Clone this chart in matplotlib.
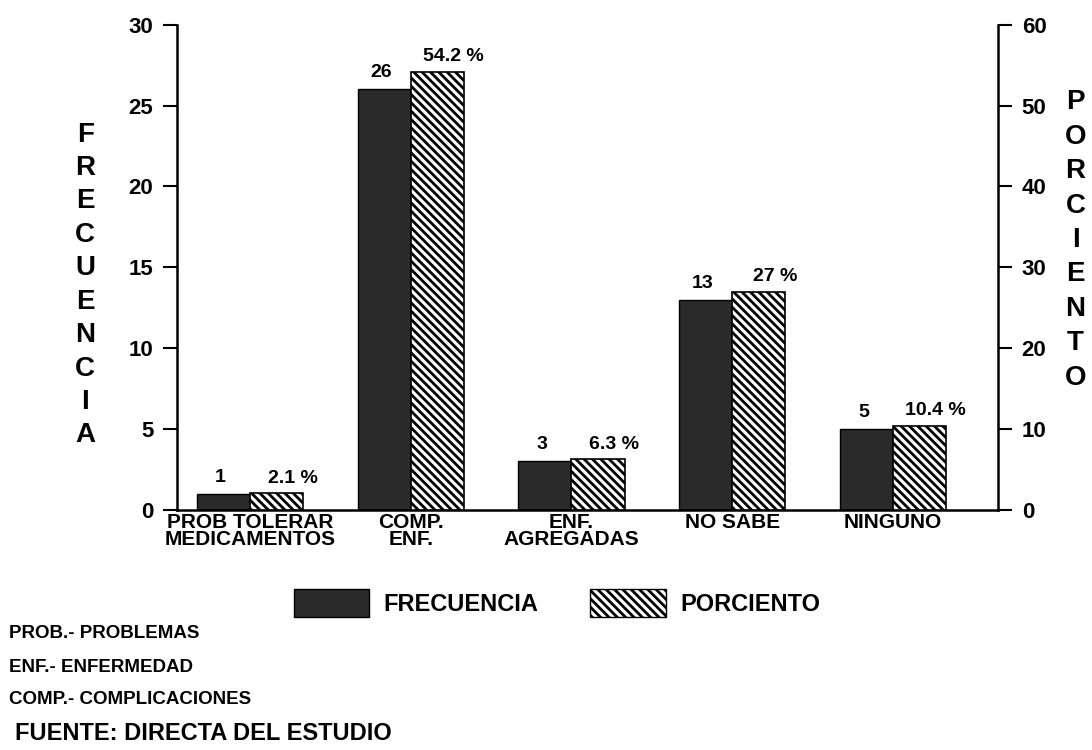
import numpy as np
import matplotlib
matplotlib.use("Agg")
import matplotlib.pyplot as plt
from matplotlib.patches import Patch

categories = ["PROB TOLERAR\nMEDICAMENTOS", "COMP.\nENF.", "ENF.\nAGREGADAS", "NO SABE", "NINGUNO"]
frecuencia = [1, 26, 3, 13, 5]
porciento = [2.1, 54.2, 6.3, 27, 10.4]
pct_labels = ["2.1 %", "54.2 %", "6.3 %", "27 %", "10.4 %"]
notes = ["PROB.- PROBLEMAS", "ENF.- ENFERMEDAD", "COMP.- COMPLICACIONES"]
source = "FUENTE: DIRECTA DEL ESTUDIO"

plt.rcParams["font.family"] = ["Liberation Sans", "DejaVu Sans"]
plt.rcParams["font.weight"] = "bold"
plt.rcParams["hatch.linewidth"] = 2.0

HATCH = "\\\\\\\\"

fig = plt.figure(figsize=(10.92, 7.5), dpi=100)
ax = fig.add_axes([0.162, 0.32, 0.752, 0.647])
ax2 = ax.twinx()

x = np.arange(len(categories))
w = 0.33
ax.bar(x - w / 2, frecuencia, w, color="#2a2a2a", edgecolor="black", linewidth=1, zorder=2)
ax2.bar(x + w / 2, porciento, w, color="white", edgecolor="black", hatch=HATCH, linewidth=1.2, zorder=2)

ax.set_ylim(0, 30)
ax2.set_ylim(0, 60)
ax.set_xlim(-0.454, 4.653)
ax.set_yticks([0, 5, 10, 15, 20, 25, 30])
ax2.set_yticks([0, 10, 20, 30, 40, 50, 60])
for a in (ax, ax2):
    a.spines["top"].set_visible(False)
    for s in a.spines.values():
        s.set_linewidth(1.8)
    a.tick_params(axis="y", length=10, width=1.5, labelsize=16, pad=7)
ax.spines["right"].set_visible(False)
ax2.spines["left"].set_visible(False)
ax2.spines["bottom"].set_visible(False)

ax.set_xticks(x)
ax.set_xticklabels(categories, fontsize=15, fontweight="bold", linespacing=0.85)
ax.tick_params(axis="x", length=0, pad=2)

for i in range(len(categories)):
    ax.text(x[i] - w / 2 - 0.02, frecuencia[i] + 0.5, str(frecuencia[i]),
            ha="center", va="bottom", fontsize=14, fontweight="bold")
    ax2.text(x[i] + w / 2 + 0.1, porciento[i] + 0.8, pct_labels[i],
             ha="center", va="bottom", fontsize=14, fontweight="bold")

fig.text(0.078, 0.62, "\n".join("FRECUENCIA"), ha="center", va="center",
         fontsize=20, fontweight="bold", linespacing=1.37)
fig.text(0.985, 0.68, "\n".join("PORCIENTO"), ha="center", va="center",
         fontsize=20, fontweight="bold", linespacing=1.42)

handles = [Patch(facecolor="#2a2a2a", edgecolor="black"),
           Patch(facecolor="white", edgecolor="black", hatch=HATCH)]
fig.legend(handles, ["FRECUENCIA", "PORCIENTO"], loc="center", bbox_to_anchor=(0.51, 0.196),
           ncol=2, frameon=False, handlelength=3.2, handleheight=1.5,
           columnspacing=2.2, handletextpad=0.6, prop={"weight": "bold", "size": 17})

for j, n in enumerate(notes):
    fig.text(0.008, 1 - (634 + 33 * j) / 750, n, ha="left", va="center", fontsize=13.5, fontweight="bold")
fig.text(0.014, 1 - 733 / 750, source, ha="left", va="center", fontsize=17, fontweight="bold")

fig.savefig("out.png", dpi=100)
